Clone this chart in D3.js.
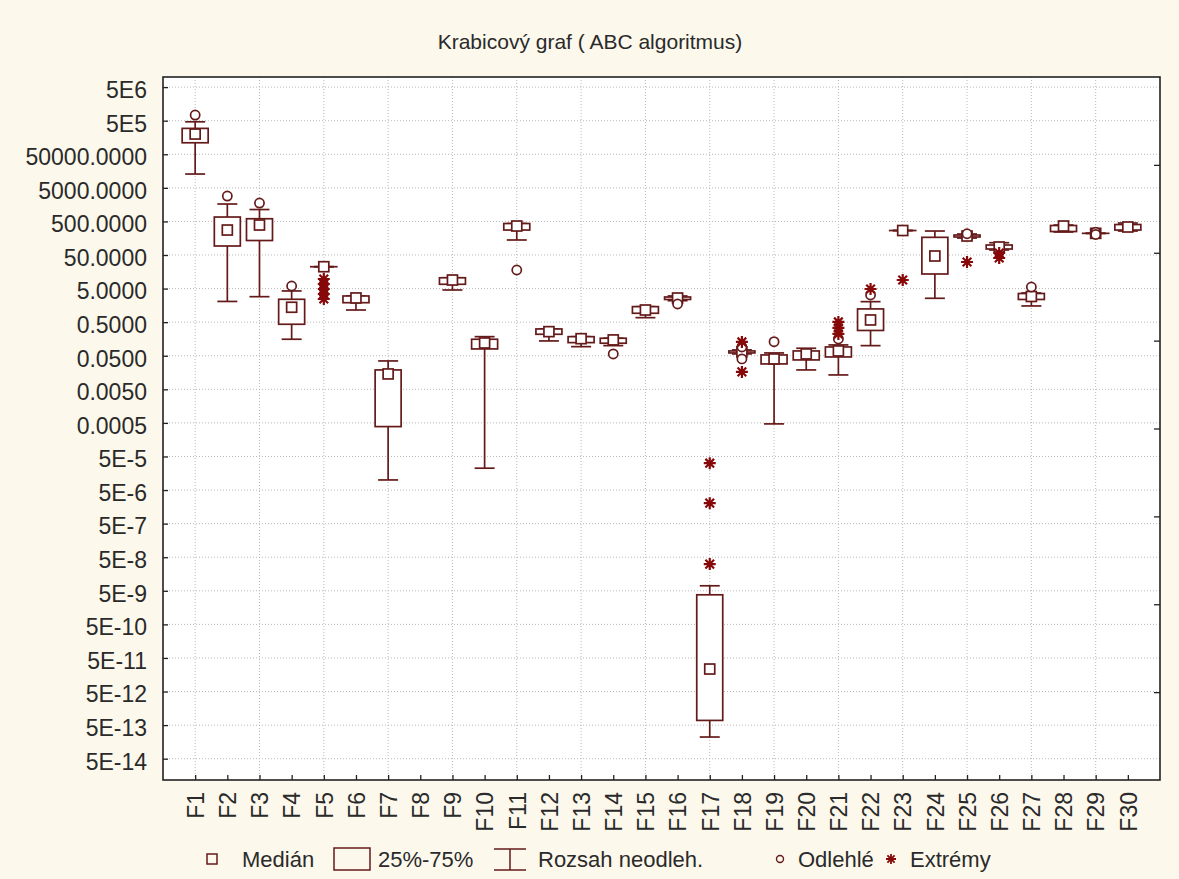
<!DOCTYPE html>
<html>
<head>
<meta charset="utf-8">
<script src="https://cdn.jsdelivr.net/npm/d3@7"></script>
<style>
  body { margin: 0; background: #fcf8ec; }
  text { font-family: Arial, "Liberation Sans", sans-serif; fill: #2a2a2a; }
</style>
</head>
<body>
<svg id="chart" width="1179" height="879"></svg>
<script>
// Test functions F1..F30 (F8 has no results)
const categories = ["F1","F2","F3","F4","F5","F6","F7","F8","F9","F10",
  "F11","F12","F13","F14","F15","F16","F17","F18","F19","F20",
  "F21","F22","F23","F24","F25","F26","F27","F28","F29","F30"];

// Lower whisker (non-outlier minimum)
const whiskerLow = [1.29e4, 2.07, 2.87, 0.155, 22.4, 1.15, 1.0e-5, null, 4.54, 2.24e-5,
  140, 0.138, 0.0933, 0.100, 0.681, 2.18, 2.21e-13, 0.0566, 4.67e-4, 0.0189,
  0.0134, 0.100, 268, 2.57, 160, 70.5, 1.52, 242, 221, 259];
// 25 % quartile
const quartile1 = [1.1e5, 92.7, 135, 0.433, 22.4, 1.90, 3.88e-4, null, 6.72, 0.0797,
  277, 0.218, 0.123, 0.118, 0.92, 2.37, 6.9e-13, 0.0606, 0.0285, 0.0375,
  0.046, 0.283, 268, 13.6, 172, 75.5, 2.37, 250, 221, 277];
// Median
const medians = [2.0e5, 277, 391, 1.39, 22.4, 2.63, 0.01435, null, 9.0, 0.120,
  365, 0.261, 0.161, 0.148, 1.15, 2.62, 2.34e-11, 0.0649, 0.0402, 0.0566,
  0.0695, 0.581, 268, 46.7, 184, 86.5, 2.91, 365, 221, 341];
// 75 % quartile
const quartile3 = [2.95e5, 676, 601, 2.40, 22.4, 3.01, 0.0189, null, 10.5, 0.155,
  433, 0.314, 0.185, 0.166, 1.45, 2.81, 3.8e-9, 0.0695, 0.0528, 0.0695,
  0.0914, 1.24, 268, 168, 197, 99.3, 3.57, 378, 221, 404];
// Upper whisker (non-outlier maximum)
const whiskerHigh = [4.63e5, 1650, 1130, 4.25, 22.4, 3.01, 0.035, null, 10.5, 0.185,
  433, 0.314, 0.185, 0.166, 1.45, 3.01, 7.05e-9, 0.0745, 0.0606, 0.0836,
  0.105, 2.04, 268, 259, 211, 116, 3.70, 391, 221, 448];
// Outliers
const outliers = [[7.35e5], [2850], [1766], [5.97], [], [], [], [], [], [],
  [17.9], [], [], [0.0566], [], [1.74], [], [0.0914, 0.0402], [0.131], [],
  [0.158], [3.23], [], [], [215], [], [5.58], [], [240, 205], []];
// Extremes
const extremes = [[], [], [], [], [9.66, 6.85, 4.86, 3.45, 2.45], [], [], [], [], [],
  [], [], [], [], [], [], [3.16e-5, 2.04e-6, 3.12e-8], [0.129, 0.0165], [], [],
  [0.507, 0.336, 0.223], [4.86], [9.0], [], [31.0], [57.4, 40.7], [], [], [], []];

// Y axis ticks and their printed labels
const yTickValues = [5e6, 5e5, 5e4, 5e3, 500, 50, 5, 0.5, 0.05, 0.005, 0.0005,
  5e-5, 5e-6, 5e-7, 5e-8, 5e-9, 5e-10, 5e-11, 5e-12, 5e-13, 5e-14];
const yTickLabels = ["5E6", "5E5", "50000.0000", "5000.0000", "500.0000", "50.0000",
  "5.0000", "0.5000", "0.0500", "0.0050", "0.0005", "5E-5", "5E-6", "5E-7", "5E-8",
  "5E-9", "5E-10", "5E-11", "5E-12", "5E-13", "5E-14"];

const legendLabels = ["Medián", "25%-75%", "Rozsah neodleh.", "Odlehlé", "Extrémy"];
const titleText = "Krabicový graf ( ABC algoritmus)";

const W = 1179, H = 879;
const plot = { left: 163, right: 1160, top: 77, bottom: 780 };
const markColor = "#651a1a";
const extremeColor = "#860808";
const gridColor = "#b9b9b9";

const svg = d3.select("#chart");

svg.append("rect").attr("width", W).attr("height", H).attr("fill", "#fcf8ec");
svg.append("rect")
  .attr("x", plot.left).attr("y", plot.top)
  .attr("width", plot.right - plot.left).attr("height", plot.bottom - plot.top)
  .attr("fill", "#ffffff");

const x = d3.scalePoint().domain(categories).range([plot.left, plot.right]).padding(1);
const y = d3.scaleLog().domain([1.16e-14, 1e7]).range([plot.bottom, plot.top]);
const yRight = d3.scaleLinear().domain([0, 8]).range([plot.bottom, plot.top]);

// grid
const grid = svg.append("g");
grid.selectAll(".hg").data(yTickValues).join("line")
  .attr("x1", plot.left).attr("x2", plot.right)
  .attr("y1", d => y(d)).attr("y2", d => y(d))
  .attr("stroke", gridColor).attr("stroke-width", 1).attr("stroke-dasharray", "1,2");
grid.selectAll(".vg").data(categories.filter((d, i) => i % 2 === 0)).join("line")
  .attr("x1", d => x(d)).attr("x2", d => x(d))
  .attr("y1", plot.top).attr("y2", plot.bottom)
  .attr("stroke", gridColor).attr("stroke-width", 1).attr("stroke-dasharray", "1,2");

// title
svg.append("text").attr("x", 590).attr("y", 49).attr("text-anchor", "middle")
  .style("font-size", "21px").text(titleText);

// left axis
const yAxis = d3.axisLeft(y).tickValues(yTickValues)
  .tickFormat((d, i) => yTickLabels[i]).tickSize(-5).tickPadding(16);
const gy = svg.append("g").attr("transform", `translate(${plot.left},0)`).call(yAxis);
gy.select(".domain").remove();
gy.selectAll(".tick line").attr("stroke", "#222").attr("stroke-width", 1.3);
gy.selectAll(".tick text").style("font-size", "23px").attr("font-family", null)
  .attr("dy", "0.45em").attr("fill", "#2a2a2a");

// right axis (unlabelled ticks)
const yAxisR = d3.axisRight(yRight).tickValues([1, 2, 3, 4, 5, 6, 7]).tickSize(-6).tickFormat("");
const gr = svg.append("g").attr("transform", `translate(${plot.right},0)`).call(yAxisR);
gr.select(".domain").remove();
gr.selectAll(".tick line").attr("stroke", "#222").attr("stroke-width", 1.3);

// bottom axis
const xAxis = d3.axisBottom(x).tickSize(-5).tickPadding(0);
const gx = svg.append("g").attr("transform", `translate(0,${plot.bottom})`).call(xAxis);
gx.select(".domain").remove();
gx.selectAll(".tick line").attr("stroke", "#222").attr("stroke-width", 1.3);
gx.selectAll(".tick text")
  .attr("font-family", null).style("font-size", "23px").attr("fill", "#2a2a2a")
  .attr("transform", "rotate(-90)")
  .attr("text-anchor", "end").attr("x", -12).attr("y", 0).attr("dy", "0.36em");

// frame
svg.append("rect")
  .attr("x", plot.left).attr("y", plot.top)
  .attr("width", plot.right - plot.left).attr("height", plot.bottom - plot.top)
  .attr("fill", "none").attr("stroke", "#222").attr("stroke-width", 1.6);

// box plots
const boxW = 26, capW = 20, medS = 10;
const rows = categories.map((c, i) => ({
  c, lo: whiskerLow[i], q1: quartile1[i], med: medians[i], q3: quartile3[i], hi: whiskerHigh[i],
  out: outliers[i], ext: extremes[i]
})).filter(r => r.med != null);

const boxes = svg.append("g").attr("stroke", markColor).attr("stroke-width", 1.7).attr("fill", "none");
rows.forEach(r => {
  const cx = x(r.c);
  const g = boxes.append("g");
  g.append("line").attr("x1", cx).attr("x2", cx).attr("y1", y(r.hi)).attr("y2", y(r.q3));
  g.append("line").attr("x1", cx).attr("x2", cx).attr("y1", y(r.q1)).attr("y2", y(r.lo));
  g.append("line").attr("x1", cx - capW / 2).attr("x2", cx + capW / 2).attr("y1", y(r.hi)).attr("y2", y(r.hi));
  g.append("line").attr("x1", cx - capW / 2).attr("x2", cx + capW / 2).attr("y1", y(r.lo)).attr("y2", y(r.lo));
  g.append("rect").attr("x", cx - boxW / 2).attr("y", y(r.q3))
    .attr("width", boxW).attr("height", Math.max(0.01, y(r.q1) - y(r.q3)))
    .attr("fill", "#ffffff");
  g.append("rect").attr("x", cx - medS / 2).attr("y", y(r.med) - medS / 2)
    .attr("width", medS).attr("height", medS).attr("fill", "#ffffff");
});

// outliers
const outG = svg.append("g");
rows.forEach(r => {
  r.out.forEach(v => {
    outG.append("circle").attr("cx", x(r.c)).attr("cy", y(v)).attr("r", 4.6)
      .attr("fill", "#ffffff").attr("stroke", markColor).attr("stroke-width", 1.7);
  });
});

// extremes drawn as eight-armed asterisks
function asterisk(g, cx, cy, s, w) {
  const d = s * 0.72;
  g.append("path")
    .attr("d", `M${cx - s},${cy}H${cx + s}M${cx},${cy - s}V${cy + s}` +
      `M${cx - d},${cy - d}L${cx + d},${cy + d}M${cx - d},${cy + d}L${cx + d},${cy - d}`)
    .attr("stroke", extremeColor).attr("stroke-width", w).attr("fill", "none");
}
const extG = svg.append("g");
rows.forEach(r => r.ext.forEach(v => asterisk(extG, x(r.c), y(v), 6, 2.2)));

// legend
const ly = 859;
const fs = "22px";
const leg = svg.append("g");
leg.append("rect").attr("x", 207).attr("y", ly - 5).attr("width", 10).attr("height", 10)
  .attr("fill", "none").attr("stroke", markColor).attr("stroke-width", 1.5);
leg.append("text").attr("x", 242).attr("y", ly + 8).style("font-size", fs).text(legendLabels[0]);
leg.append("rect").attr("x", 334).attr("y", ly - 11).attr("width", 36).attr("height", 22)
  .attr("fill", "none").attr("stroke", markColor).attr("stroke-width", 1.5);
leg.append("text").attr("x", 378).attr("y", ly + 8).style("font-size", fs).text(legendLabels[1]);
const wx = 510;
leg.append("path").attr("d", `M${wx - 16},${ly - 10}H${wx + 16}M${wx},${ly - 10}V${ly + 11}M${wx - 16},${ly + 11}H${wx + 16}`)
  .attr("stroke", markColor).attr("stroke-width", 1.5).attr("fill", "none");
leg.append("text").attr("x", 538).attr("y", ly + 8).style("font-size", fs).text(legendLabels[2]);
leg.append("circle").attr("cx", 780).attr("cy", ly).attr("r", 3.5)
  .attr("fill", "none").attr("stroke", markColor).attr("stroke-width", 1.4);
leg.append("text").attr("x", 798).attr("y", ly + 8).style("font-size", fs).text(legendLabels[3]);
asterisk(leg, 891, ly, 5, 1.8);
leg.append("text").attr("x", 910).attr("y", ly + 8).style("font-size", fs).text(legendLabels[4]);
</script>
</body>
</html>
